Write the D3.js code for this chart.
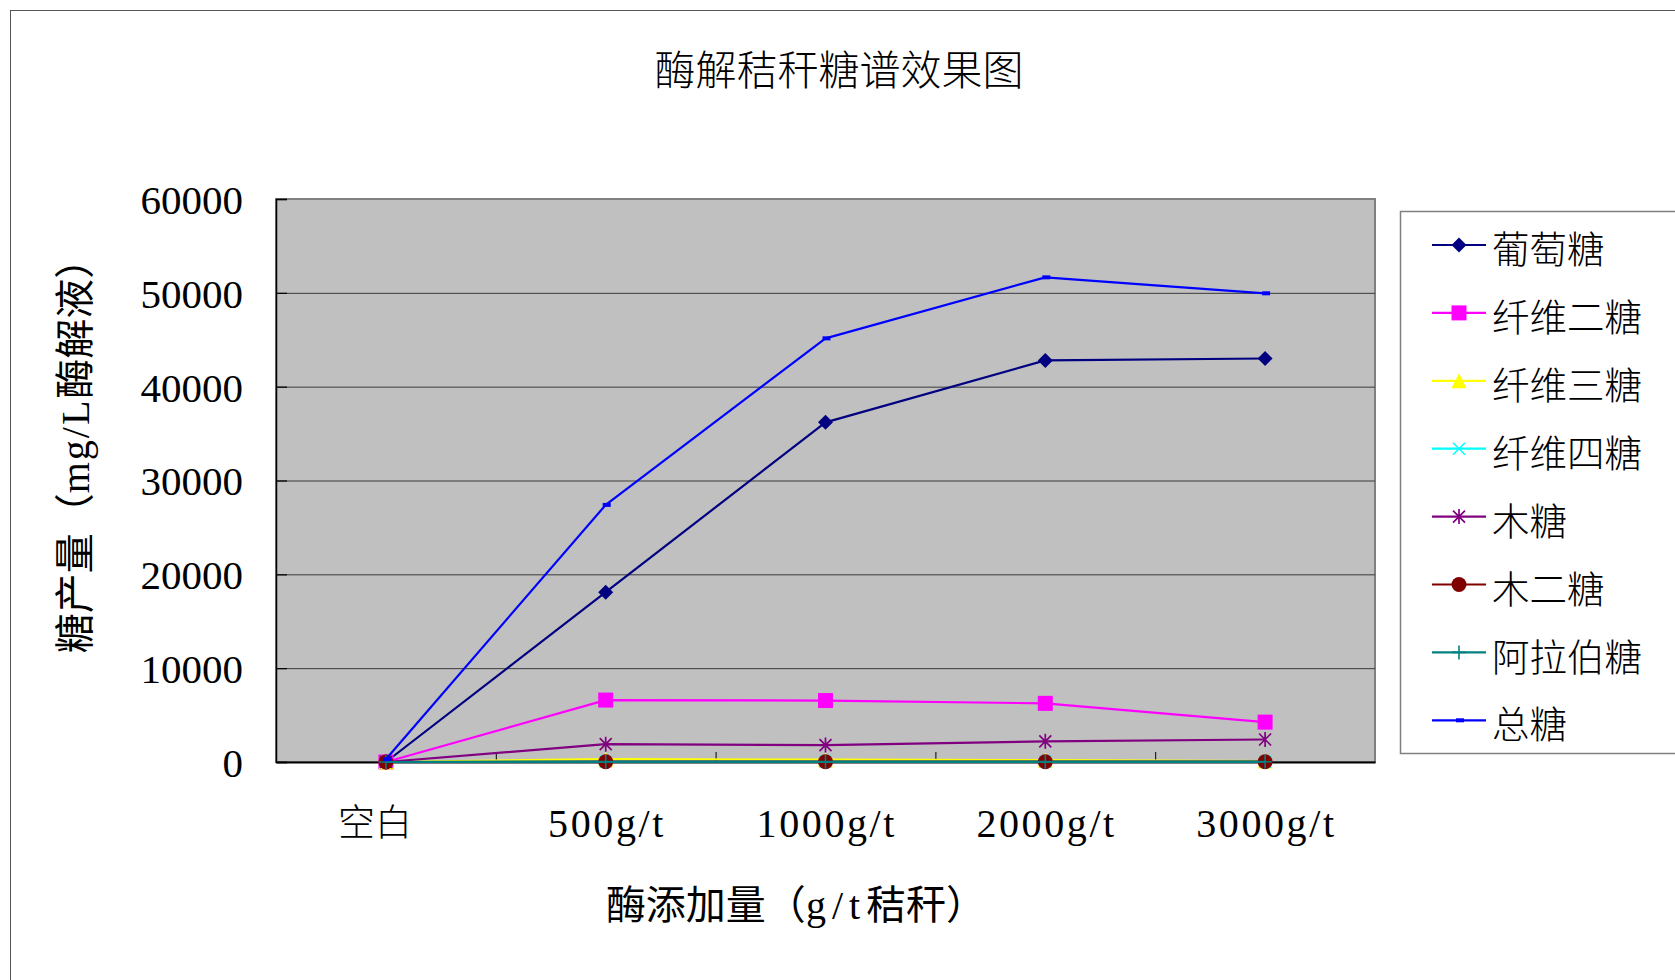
<!DOCTYPE html>
<html>
<head>
<meta charset="utf-8">
<script src="https://cdn.jsdelivr.net/npm/d3@7"></script>
<style>
  html, body { margin: 0; padding: 0; background: #fff; }
  svg { display: block; }
  .cjk { font-family: "Noto Sans CJK SC", sans-serif; font-weight: 300; }
  .num { font-family: "Liberation Serif", "Noto Sans CJK SC", serif; }
</style>
</head>
<body>
<svg id="chart" width="1675" height="980"></svg>
<script>
// ---- data ----
const categories = ["空白", "500g/t", "1000g/t", "2000g/t", "3000g/t"];
const yTicks = [0, 10000, 20000, 30000, 40000, 50000, 60000];
const seriesNames = ["葡萄糖", "纤维二糖", "纤维三糖", "纤维四糖", "木糖", "木二糖", "阿拉伯糖", "总糖"];
const glucose       = [0, 18100, 36200, 42800, 43000];
const cellobiose    = [0, 6600, 6550, 6250, 4250];
const cellotriose   = [0, 300, 250, 200, 100];
const cellotetraose = [0, 50, 50, 50, 50];
const xylose        = [0, 1900, 1800, 2200, 2400];
const xylobiose     = [0, 30, 30, 30, 30];
const arabinose     = [0, 20, 20, 20, 20];
const totalSugar    = [300, 27400, 45150, 51650, 49950];
const chartTitle = "酶解秸秆糖谱效果图";
const xTitle = "酶添加量（g/t秸秆）";
const yTitle = "糖产量（mg/L酶解液）";

const seriesValues = [glucose, cellobiose, cellotriose, cellotetraose, xylose, xylobiose, arabinose, totalSugar];
const seriesColors = ["#000080", "#FF00FF", "#FFFF00", "#00FFFF", "#800080", "#800000", "#008080", "#0000FF"];
const seriesMarkers = ["diamond", "square", "triangle", "x", "asterisk", "circle", "plus", "dash"];

// ---- layout ----
const svg = d3.select("#chart");
const plot = { left: 276, top: 199, right: 1375, bottom: 762 };

const x = d3.scaleBand().domain(categories).range([plot.left, plot.right]).padding(0);
const y = d3.scaleLinear().domain([0, 60000]).range([plot.bottom, plot.top]);

// mixed text: Latin runs get half-width-like spacing
function mixedText(sel, str, latinSpacing) {
  const parts = str.match(/[A-Za-z0-9\/]+|[^A-Za-z0-9\/]+/g) || [];
  parts.forEach(p => {
    const t = sel.append("tspan").text(p);
    if (/^[A-Za-z0-9\/]+$/.test(p)) t.attr("letter-spacing", latinSpacing);
  });
}

// outer chart border
svg.append("rect")
  .attr("x", 10.5).attr("y", 10.5).attr("width", 1720).attr("height", 1020)
  .attr("fill", "#fff").attr("stroke", "#555").attr("stroke-width", 1);

// plot area
svg.append("rect")
  .attr("x", plot.left).attr("y", plot.top)
  .attr("width", plot.right - plot.left).attr("height", plot.bottom - plot.top)
  .attr("fill", "#C0C0C0").attr("stroke", "#808080").attr("stroke-width", 2);

// gridlines
svg.append("g").selectAll("line")
  .data(yTicks.filter(d => d > 0 && d < 60000))
  .join("line")
  .attr("x1", plot.left).attr("x2", plot.right)
  .attr("y1", d => y(d) + 0.5).attr("y2", d => y(d) + 0.5)
  .attr("stroke", "#3a3a3a").attr("stroke-width", 1);

// y axis
const yAxis = svg.append("g")
  .attr("transform", `translate(${plot.left},0)`)
  .call(d3.axisLeft(y).tickValues(yTicks).tickFormat(d3.format("d")).tickSize(-11).tickPadding(33));
yAxis.select(".domain").attr("stroke", "#000").attr("stroke-width", 1.5);
yAxis.selectAll(".tick line").attr("stroke", "#000").attr("stroke-width", 1.2);
yAxis.selectAll(".tick text")
  .attr("class", "num").attr("font-size", 41).attr("fill", "#000").attr("dy", "0.35em");

// x axis
const isCJK = d => /[\u4e00-\u9fff]/.test(d);
const xAxis = svg.append("g")
  .attr("transform", `translate(0,${plot.bottom})`)
  .call(d3.axisBottom(x).tickSize(0).tickPadding(0));
xAxis.select(".domain").attr("stroke", "#000").attr("stroke-width", 2);
xAxis.selectAll(".tick text")
  .attr("class", d => isCJK(d) ? "cjk" : "num")
  .attr("font-size", d => isCJK(d) ? 37 : 40)
  .attr("letter-spacing", d => isCJK(d) ? 0 : 2.6)
  .attr("fill", "#000").attr("y", 61).attr("dy", "0.35em")
  .attr("dx", d => isCJK(d) ? -11 : 1.3);
// category boundary ticks (inside)
xAxis.append("g").selectAll("line")
  .data(categories.slice(1))
  .join("line")
  .attr("x1", d => x(d) + 0.5).attr("x2", d => x(d) + 0.5)
  .attr("y1", 0).attr("y2", -10)
  .attr("stroke", "#000").attr("stroke-width", 1);

// ---- series ----
const line = d3.line().x((d, i) => x(categories[i]) + x.bandwidth() / 2).y(d => y(d));

function drawMarker(g, type, cx, cy, color) {
  const s = 7.5;
  if (type === "diamond") {
    g.append("path").attr("d", `M${cx},${cy - s} L${cx + s},${cy} L${cx},${cy + s} L${cx - s},${cy} Z`).attr("fill", color);
  } else if (type === "square") {
    g.append("rect").attr("x", cx - s).attr("y", cy - s).attr("width", 2 * s).attr("height", 2 * s).attr("fill", color);
  } else if (type === "triangle") {
    g.append("path").attr("d", `M${cx},${cy - s} L${cx + s},${cy + s} L${cx - s},${cy + s} Z`).attr("fill", color);
  } else if (type === "x") {
    g.append("path").attr("d", `M${cx - 6},${cy - 6} L${cx + 6},${cy + 6} M${cx - 6},${cy + 6} L${cx + 6},${cy - 6}`)
      .attr("stroke", color).attr("stroke-width", 1.5).attr("fill", "none");
  } else if (type === "asterisk") {
    g.append("path").attr("d", `M${cx - 6},${cy - 6} L${cx + 6},${cy + 6} M${cx - 6},${cy + 6} L${cx + 6},${cy - 6} M${cx},${cy - 7.5} L${cx},${cy + 7.5}`)
      .attr("stroke", color).attr("stroke-width", 1.7).attr("fill", "none");
  } else if (type === "circle") {
    g.append("circle").attr("cx", cx).attr("cy", cy).attr("r", s).attr("fill", color);
  } else if (type === "plus") {
    g.append("path").attr("d", `M${cx - 7},${cy} L${cx + 7},${cy} M${cx},${cy - 7} L${cx},${cy + 7}`)
      .attr("stroke", color).attr("stroke-width", 1.6).attr("fill", "none");
  } else if (type === "dash") {
    g.append("rect").attr("x", cx - 3).attr("y", cy - 2).attr("width", 8).attr("height", 4).attr("fill", color);
  }
}

seriesValues.forEach((vals, si) => {
  const g = svg.append("g");
  g.append("path").datum(vals)
    .attr("d", line).attr("fill", "none")
    .attr("stroke", seriesColors[si]).attr("stroke-width", 2.2).attr("stroke-linejoin", "round");
  vals.forEach((v, i) => {
    drawMarker(g, seriesMarkers[si], x(categories[i]) + x.bandwidth() / 2, y(v), seriesColors[si]);
  });
});

// ---- titles ----
svg.append("text").attr("class", "cjk")
  .attr("x", 839).attr("y", 71).attr("dy", "0.35em")
  .attr("text-anchor", "middle").attr("font-size", 41).attr("fill", "#000")
  .text(chartTitle);

const xt = svg.append("text").attr("class", "num")
  .attr("x", 796).attr("y", 905).attr("dy", "0.35em")
  .attr("text-anchor", "middle").attr("font-size", 40).attr("fill", "#000");
mixedText(xt, xTitle, 6);

const yt = svg.append("text").attr("class", "num")
  .attr("transform", "translate(75,446) rotate(-90)")
  .attr("dy", "0.35em")
  .attr("text-anchor", "middle").attr("font-size", 40).attr("fill", "#000");
mixedText(yt, yTitle, 2);

// ---- legend ----
svg.append("rect")
  .attr("x", 1400.5).attr("y", 211.5).attr("width", 400).attr("height", 542)
  .attr("fill", "#fff").attr("stroke", "#808080").attr("stroke-width", 1.5);

seriesNames.forEach((name, i) => {
  const cy = 245 + i * 67.9;
  const g = svg.append("g");
  g.append("line").attr("x1", 1432).attr("x2", 1486).attr("y1", cy).attr("y2", cy)
    .attr("stroke", seriesColors[i]).attr("stroke-width", 2.2);
  drawMarker(g, seriesMarkers[i], 1459, cy, seriesColors[i]);
  g.append("text").attr("class", "cjk")
    .attr("x", 1492).attr("y", cy + 5).attr("dy", "0.35em")
    .attr("font-size", 37.5).attr("fill", "#000")
    .text(name);
});
</script>
</body>
</html>
